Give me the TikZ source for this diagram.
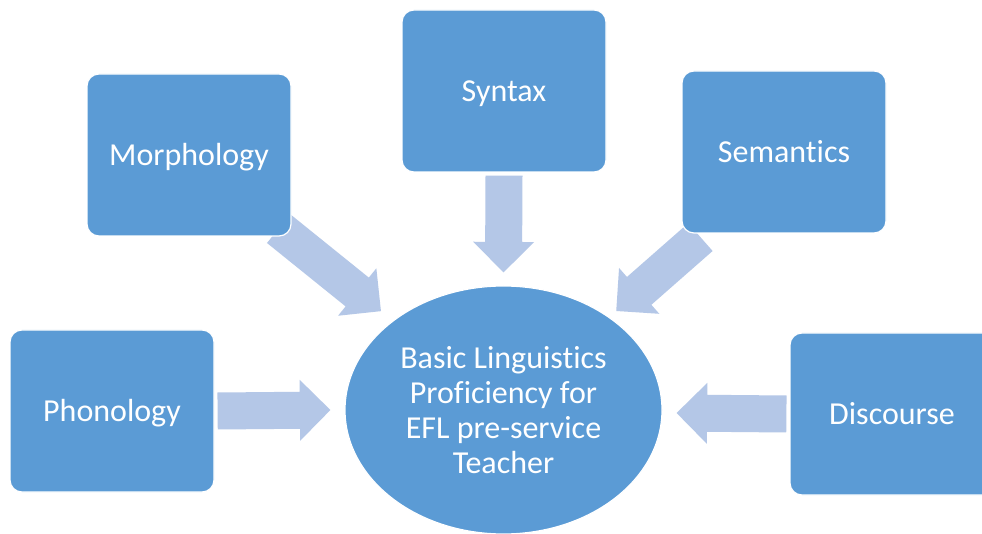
\documentclass[tikz,border=0pt]{standalone}
\usepackage{fontspec}
\setmainfont{Carlito}[Ligatures=NoCommon]
\usetikzlibrary{shapes.geometric,calc,backgrounds}

\definecolor{boxblue}{HTML}{5B9BD5}
\definecolor{arrowblue}{HTML}{B4C7E7}

% wide block arrow from #1 (tail) to #2 (tip)
\newcommand{\blockarrow}[2]{%
	\coordinate (h) at ($(#2)!30.5pt!(#1)$);
	\fill[arrowblue] ($(#1)!18.5pt!90:(#2)$) -- ($(h)!18.5pt!-90:(#1)$) -- ($(h)!30.5pt!-90:(#1)$) -- (#2)
		-- ($(h)!30.5pt!90:(#1)$) -- ($(h)!18.5pt!90:(#1)$) -- ($(#1)!18.5pt!-90:(#2)$) -- cycle;}

\begin{document}
\begin{tikzpicture}[x=1pt, y=1pt,
		main/.style = {draw=white, line width=1.2pt, fill=boxblue, text=white, rounded corners=12pt,
			minimum width=204pt, minimum height=162pt, inner sep=0pt, text height=30.5pt, text depth=8.6pt,
			font=\fontsize{32}{35}\selectfont},
		core/.style = {draw=white, line width=1.2pt, fill=boxblue, text=white, ellipse,
			minimum width=317pt, minimum height=248pt, inner sep=0pt, align=center, font=\fontsize{32}{35}\selectfont}]
		\useasboundingbox (0,0) rectangle (982,533);
		\node[core] (core) at (503.5,123) {Basic Linguistics\\Proficiency for\\EFL pre-service\\Teacher};
		\node[main] (morph) at (189,378) {Morphology};
		\node[main] (syntax) at (504,442) {Syntax};
		\node[main] (sem) at (784,381) {Semantics};
		\node[main] (phon) at (112,122) {Phonology};
		\node[main] (disc) at (892,119) {Discourse};
		\coordinate (morph-tail) at ($(morph.south east)+(-13,8)$);
		\coordinate (morph-tip) at ($(morph-tail)!131.5pt!(core.center)$);
		\coordinate (syntax-tail) at ($(syntax.south)+(0,-3)$);
		\coordinate (syntax-tip) at ($(core.north)+(0,13)$);
		\coordinate (sem-tail) at ($(sem.south west)+(19,-3.5)$);
		\coordinate (sem-tip) at ($(sem-tail)!112pt!(core.center)$);
		\coordinate (phon-tail) at ($(phon.east)+(3,0)$);
		\coordinate (phon-tip) at ($(core.west)+(-14,0)$);
		\coordinate (disc-tail) at ($(disc.west)+(-3,0)$);
		\coordinate (disc-tip) at ($(core.east)+(14,-3)$);
		\begin{scope}[on background layer]
			\fill[white] (0,0) rectangle (982,533);
			\blockarrow{morph-tail}{morph-tip}
			\blockarrow{syntax-tail}{syntax-tip}
			\blockarrow{sem-tail}{sem-tip}
			\blockarrow{phon-tail}{phon-tip}
			\blockarrow{disc-tail}{disc-tip}
		\end{scope}
	\end{tikzpicture}
\end{document}
